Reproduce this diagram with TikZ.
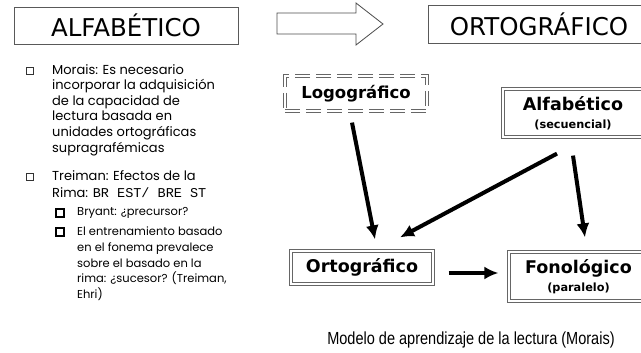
\documentclass[tikz,border=0pt]{standalone}
\usepackage{fontspec}
\setmainfont{Poppins}
\newfontfamily\verdana{DejaVu Sans}
\newfontfamily\narrow[FakeStretch=0.83]{Liberation Sans}
\newfontfamily\courier{Liberation Mono}
\usepackage{tikz}
\usetikzlibrary{arrows.meta}

\begin{document}
\begin{tikzpicture}[x=1pt, y=-1pt,
  titulo/.style={draw=black!65, line width=0.8pt, inner sep=0,
    font=\verdana\fontsize{24.5}{26}\selectfont},
  caja/.style={preaction={draw=black!60, line width=3.2pt}, draw=white,
    line width=1.2pt, inner sep=0, align=center},
  flecha/.style={line width=4pt, -{Latex[length=14pt,width=13pt]}},
  vineta/.style={draw=black!80, line width=0.8pt, minimum size=6.5pt, inner sep=0},
  subvineta/.style={draw, line width=2.2pt, minimum size=8pt, inner sep=0},
  parrafo/.style={anchor=north west, inner sep=0, align=left,
    font=\fontsize{13}{15.6}\selectfont},
  subparrafo/.style={anchor=north west, inner sep=0, align=left,
    font=\fontsize{11.5}{15.8}\selectfont}]

  \newcommand\TX{52};
  \newcommand\SUBX{77};

  \clip (0,0) rectangle (641,353);

  % titulos
  \node[titulo, minimum width=224pt, minimum height=37pt] (alfab) at (126,25.5) {ALFABÉTICO};
  \node[titulo, minimum width=222pt, minimum height=38pt] (ortog) at (539,24) {ORTOGRÁFICO};
  \draw[draw=black!70, line width=0.8pt] (277,13) -- (356,13) -- (356,3) -- (383,24)
  -- (356,45) -- (356,34) -- (277,34) -- cycle;

  % texto de la izquierda
  \node[vineta] (b1) at (30,71) {};
  \node[parrafo] (morais) at (\TX,64) {Morais: Es necesario\\incorporar la adquisición\\de la
    capacidad de\\lectura basada en\\unidades ortográficas\\supragrafémicas};
  \node[vineta] (b2) at (30,177) {};
  \node[parrafo] (treiman) at (\TX,170) {Treiman: Efectos de la\\[1.5pt]Rima:
    {\courier\fontsize{13.5}{15}\selectfont BR EST/ BRE ST}};
  \node[subvineta] (s1) at (60,213) {};
  \node[subparrafo] (bryant) at (\SUBX,207.5) {Bryant: ¿precursor?};
  \node[subvineta] (s2) at (60,232) {};
  \node[subparrafo] (entren) at (\SUBX,226.5) {El entrenamiento basado\\en
    el fonema prevalece\\sobre el basado en la\\rima: ¿sucesor? (Treiman,\\Ehri)};

  % modelo
  \node[caja, preaction={draw=black!60, line width=3.2pt, dash pattern=on 15pt off 6pt},
    dash pattern=on 15pt off 6pt, minimum width=142pt, minimum height=35pt,
    font=\verdana\bfseries\fontsize{16.5}{18}\selectfont] (logo) at (356,93.5) {Logográfico};
  \node[caja, minimum width=140pt, minimum height=48pt,
    font=\verdana\bfseries\fontsize{11.3}{17.5}\selectfont] (alfa) at (573,113)
  {{\fontsize{17.5}{19}\selectfont Alfabético}\\(secuencial)};
  \node[caja, minimum width=142pt, minimum height=33pt,
    font=\verdana\bfseries\fontsize{17.5}{19}\selectfont] (orto) at (362,267.5) {Ortográfico};
  \node[caja, minimum width=139pt, minimum height=49pt,
    font=\verdana\bfseries\fontsize{11.3}{17.5}\selectfont] (fono) at (578.5,276.5)
  {{\fontsize{17.5}{19}\selectfont Fonológico}\\(paralelo)};

  \draw[flecha] ([xshift=-4pt,yshift=-11pt]logo.south) -- ([xshift=13pt,yshift=11pt]orto.north);
  \draw[flecha] ([xshift=-16pt,yshift=-16pt]alfa.south) -- ([xshift=38pt,yshift=13pt]orto.north);
  \draw[flecha] ([yshift=-18pt]alfa.south) -- ([xshift=6.5pt,yshift=14pt]fono.north);
  \draw[flecha] ([xshift=15pt,yshift=-5.5pt]orto.east) -- ([xshift=-10pt,yshift=3.5pt]fono.west);

  \node[font=\narrow\fontsize{17.5}{19}\selectfont] (pie) at (471,340)
  {Modelo de aprendizaje de la lectura (Morais)};

\end{tikzpicture}
\end{document}
